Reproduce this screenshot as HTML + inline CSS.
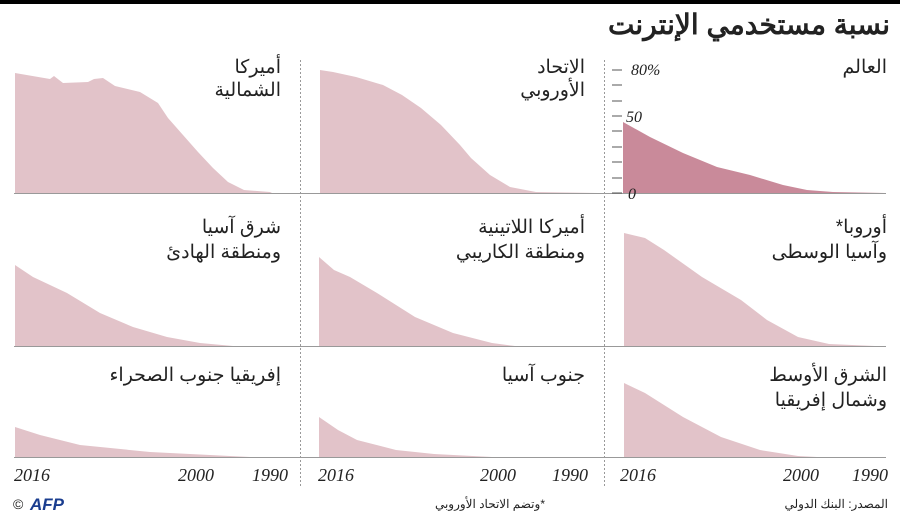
<!DOCTYPE html>
<html><head><meta charset="utf-8"><style>
body{margin:0;background:#fff;}
svg{display:block}
.t{font-family:"Liberation Sans","Noto Sans CJK SC",sans-serif;fill:#222;}
.y{font-family:"Liberation Serif",serif;font-style:italic;fill:#222;}
</style></head><body>
<svg width="900" height="522" viewBox="0 0 900 522" xmlns="http://www.w3.org/2000/svg">
<rect x="0" y="0" width="900" height="4" fill="#000"/>
<text class="t" x="890" y="34" font-size="28" font-weight="bold" text-anchor="start" direction="rtl">نسبة مستخدمي الإنترنت</text>

<g stroke="#999" stroke-width="1" stroke-dasharray="2,2">
<line x1="300.5" y1="60" x2="300.5" y2="488"/>
<line x1="604.5" y1="60" x2="604.5" y2="488"/>
</g>

<g fill="#e2c3c9">
<polygon points="15,193 15,73 50,79 54,76 63,83 88,82 94,79 103,78 115,86 140,92 158,103 168,118 183,135 198,152 213,168 228,182 244,190 270,192 272,193"/>
<polygon points="320,193 320,70 333,72 356,77 383,85 402,95 421,108 441,125 460,145 471,158 490,175 510,187 536,192 598,193"/>
<polygon points="15,346 15,265 33,277 67,293 100,313 133,327 167,337 200,343 233,346"/>
<polygon points="319,346 319,257 334,270 350,277 377,293 415,317 453,333 492,343 515,346"/>
<polygon points="624,346 624,233 645,238 664,250 702,277 741,300 767,320 798,337 829,344 875,346"/>
<polygon points="15,457 15,427 40,435 80,445 150,452 250,457"/>
<polygon points="319,457 319,417 338,430 357,440 396,450 434,454 492,457"/>
<polygon points="624,457 624,383 645,393 683,417 721,437 760,450 798,456 817,457"/>
</g>
<polygon fill="#c98a9a" points="623,193 623,122 650,137 683,153 717,167 750,175 783,185 807,190 833,192 885,193"/>

<g stroke="#999" stroke-width="1">
<line x1="14" y1="193.5" x2="886" y2="193.5"/>
<line x1="14" y1="346.5" x2="886" y2="346.5"/>
<line x1="14" y1="457.5" x2="886" y2="457.5"/>
</g>
<g stroke="#555" stroke-width="1">
<line x1="612" y1="70" x2="622" y2="70"/><line x1="612" y1="85" x2="622" y2="85"/>
<line x1="612" y1="101" x2="622" y2="101"/><line x1="612" y1="116" x2="622" y2="116"/>
<line x1="612" y1="131" x2="622" y2="131"/><line x1="612" y1="147" x2="622" y2="147"/>
<line x1="612" y1="162" x2="622" y2="162"/><line x1="612" y1="178" x2="622" y2="178"/>
<line x1="612" y1="193" x2="622" y2="193"/>
</g>
<g class="y" font-size="16">
<text x="631" y="75">80%</text>
<text x="626" y="122">50</text>
<text x="628" y="199">0</text>
</g>

<g class="t" font-size="19" text-anchor="start" direction="rtl">
<text x="281" y="73">أميركا</text><text x="281" y="96">الشمالية</text>
<text x="585" y="73">الاتحاد</text><text x="585" y="96">الأوروبي</text>
<text x="887" y="73">العالم</text>
<text x="281" y="233">شرق آسيا</text><text x="281" y="258">ومنطقة الهادئ</text>
<text x="585" y="233">أميركا اللاتينية</text><text x="585" y="258">ومنطقة الكاريبي</text>
<text x="887" y="233">أوروبا*</text><text x="887" y="258">وآسيا الوسطى</text>
<text x="281" y="381">إفريقيا جنوب الصحراء</text>
<text x="585" y="381">جنوب آسيا</text>
<text x="887" y="381">الشرق الأوسط</text><text x="887" y="406">وشمال إفريقيا</text>
</g>

<g class="y" font-size="18">
<text x="14" y="481">2016</text><text x="178" y="481">2000</text><text x="252" y="481">1990</text>
<text x="318" y="481">2016</text><text x="480" y="481">2000</text><text x="552" y="481">1990</text>
<text x="620" y="481">2016</text><text x="783" y="481">2000</text><text x="852" y="481">1990</text>
</g>

<g class="t" font-size="12">
<text x="888" y="508" text-anchor="start" direction="rtl">المصدر: البنك الدولي</text>
<text x="545" y="508" text-anchor="start" direction="rtl">*وتضم الاتحاد الأوروبي</text>
<text x="13" y="509" font-size="14">©</text>
<text x="30" y="510" font-size="17" font-weight="bold" font-style="italic" fill="#1a3d8f">AFP</text>
</g>
</svg>
</body></html>
